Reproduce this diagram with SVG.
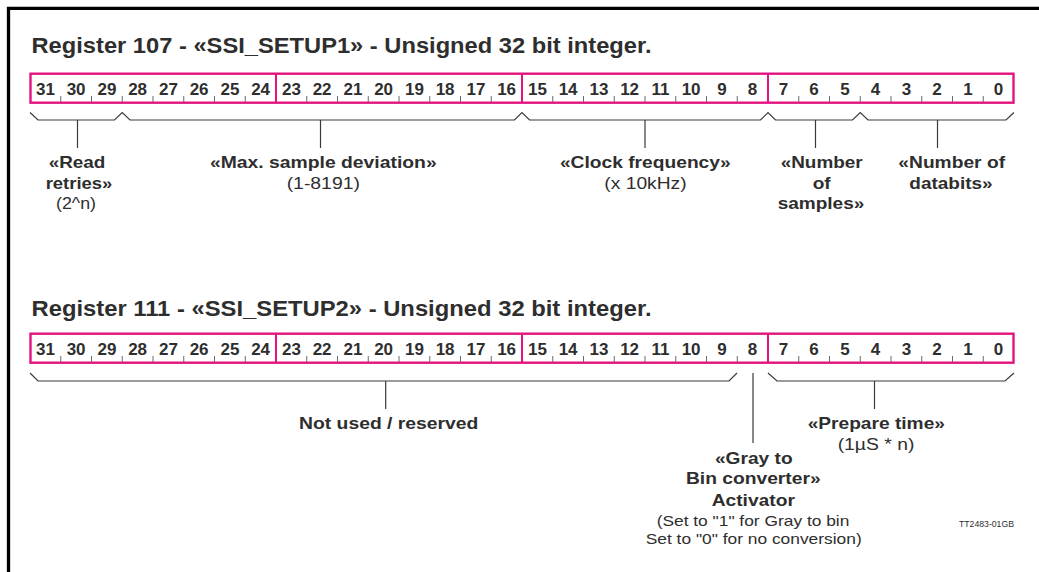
<svg xmlns="http://www.w3.org/2000/svg" width="1039" height="572" viewBox="0 0 1039 572">
<style>
.t{font-family:"Liberation Sans",Arial,sans-serif;fill:#2e2e2e}
.title{font-size:22px;font-weight:bold}
.d{font-size:17px;font-weight:bold;text-anchor:middle}
.b{font-size:16.5px;font-weight:bold;text-anchor:middle}
.r{font-size:16px;text-anchor:middle}
.s{font-size:15px;text-anchor:middle}
.box{fill:none;stroke:#e3147f;stroke-width:2.4}
.div{stroke:#e3147f;stroke-width:2}
.tick{stroke:#6a6a6a;stroke-width:1;fill:none}
.br{fill:none;stroke:#3a3a3a;stroke-width:1.2}
</style>
<rect width="1039" height="572" fill="#fff"/>
<g id="frame"><path d="M8.5,572 V8.4 H1039" fill="none" stroke="#000" stroke-width="3.3"/></g>

<g id="title1"><text class="t title" x="31.5" y="53.3" textLength="620" lengthAdjust="spacingAndGlyphs">Register 107 - «SSI_SETUP1» - Unsigned 32 bit integer.</text></g>

<g id="reg107">
<rect class="box" x="30.5" y="73.7" width="983" height="29"/>
<path class="div" d="M276,73 V103 M522,73 V103 M768,73 V103"/>
<path class="tick" d="M60.75,96v6M91.5,96v6M122.25,96v6M153,96v6M183.75,96v6M214.5,96v6M245.25,96v6M306.75,96v6M337.5,96v6M368.25,96v6M399,96v6M429.75,96v6M460.5,96v6M491.25,96v6M552.75,96v6M583.5,96v6M614.25,96v6M645,96v6M675.75,96v6M706.5,96v6M737.25,96v6M798.75,96v6M829.5,96v6M860.25,96v6M891,96v6M921.75,96v6M952.5,96v6M983.25,96v6"/>
<g class="t d">
<text x="45.4" y="95">31</text><text x="76.1" y="95">30</text><text x="106.9" y="95">29</text><text x="137.6" y="95">28</text>
<text x="168.4" y="95">27</text><text x="199.1" y="95">26</text><text x="229.9" y="95">25</text><text x="260.6" y="95">24</text>
<text x="291.4" y="95">23</text><text x="322.1" y="95">22</text><text x="352.9" y="95">21</text><text x="383.6" y="95">20</text>
<text x="414.4" y="95">19</text><text x="445.1" y="95">18</text><text x="475.9" y="95">17</text><text x="506.6" y="95">16</text>
<text x="537.4" y="95">15</text><text x="568.1" y="95">14</text><text x="598.9" y="95">13</text><text x="629.6" y="95">12</text>
<text x="660.4" y="95">11</text><text x="691.1" y="95">10</text><text x="721.9" y="95">9</text><text x="752.6" y="95">8</text>
<text x="783.4" y="95">7</text><text x="814.1" y="95">6</text><text x="844.9" y="95">5</text><text x="875.6" y="95">4</text>
<text x="906.4" y="95">3</text><text x="937.1" y="95">2</text><text x="967.9" y="95">1</text><text x="998.6" y="95">0</text>
</g>
</g>

<g id="title2"><text class="t title" x="31.5" y="316" textLength="620" lengthAdjust="spacingAndGlyphs">Register 111 - «SSI_SETUP2» - Unsigned 32 bit integer.</text></g>

<g id="reg111">
<rect class="box" x="30.5" y="333.7" width="983" height="29"/>
<path class="div" d="M276,333 V363 M522,333 V363 M768,333 V363"/>
<path class="tick" d="M60.75,356v6M91.5,356v6M122.25,356v6M153,356v6M183.75,356v6M214.5,356v6M245.25,356v6M306.75,356v6M337.5,356v6M368.25,356v6M399,356v6M429.75,356v6M460.5,356v6M491.25,356v6M552.75,356v6M583.5,356v6M614.25,356v6M645,356v6M675.75,356v6M706.5,356v6M737.25,356v6M798.75,356v6M829.5,356v6M860.25,356v6M891,356v6M921.75,356v6M952.5,356v6M983.25,356v6"/>
<g class="t d">
<text x="45.4" y="355">31</text><text x="76.1" y="355">30</text><text x="106.9" y="355">29</text><text x="137.6" y="355">28</text>
<text x="168.4" y="355">27</text><text x="199.1" y="355">26</text><text x="229.9" y="355">25</text><text x="260.6" y="355">24</text>
<text x="291.4" y="355">23</text><text x="322.1" y="355">22</text><text x="352.9" y="355">21</text><text x="383.6" y="355">20</text>
<text x="414.4" y="355">19</text><text x="445.1" y="355">18</text><text x="475.9" y="355">17</text><text x="506.6" y="355">16</text>
<text x="537.4" y="355">15</text><text x="568.1" y="355">14</text><text x="598.9" y="355">13</text><text x="629.6" y="355">12</text>
<text x="660.4" y="355">11</text><text x="691.1" y="355">10</text><text x="721.9" y="355">9</text><text x="752.6" y="355">8</text>
<text x="783.4" y="355">7</text><text x="814.1" y="355">6</text><text x="844.9" y="355">5</text><text x="875.6" y="355">4</text>
<text x="906.4" y="355">3</text><text x="937.1" y="355">2</text><text x="967.9" y="355">1</text><text x="998.6" y="355">0</text>
</g>
</g>

<g id="connectors">
<path class="br" d="M30,112.5 L38,120 H114.5 L122.25,112.5 L130,120 H514.5 L522,112.5 L529.5,120 H760.5 L768,112.5 L775.5,120 H852.5 L860.25,112.5 L868,120 H1006 L1014,112.5"/>
<path class="br" d="M77.5,120 V148 M320.5,120 V148 M645,120 V148 M815.5,120 V148 M937.5,120 V148"/>
<path class="br" d="M30,373 L38,381 H729 L737,373"/>
<path class="br" d="M768,373 L777,381 H1005 L1014,373"/>
<path class="br" d="M385.7,381 V409 M874.5,381 V409 M753,373 V443"/>
</g>

<g id="lbl-read-retries" class="t">
<text class="b" x="77" y="168.3" textLength="56.7" lengthAdjust="spacingAndGlyphs">«Read</text>
<text class="b" x="79" y="189.3" textLength="66.7" lengthAdjust="spacingAndGlyphs">retries»</text>
<text class="r" x="76" y="208.5" textLength="40" lengthAdjust="spacingAndGlyphs">(2^n)</text>
</g>
<g id="lbl-max-sample-deviation" class="t">
<text class="b" x="323.3" y="168.3" textLength="226.7" lengthAdjust="spacingAndGlyphs">«Max. sample deviation»</text>
<text class="r" x="323.3" y="189" textLength="73.3" lengthAdjust="spacingAndGlyphs">(1-8191)</text>
</g>
<g id="lbl-clock-frequency" class="t">
<text class="b" x="645.3" y="168.3" textLength="170.7" lengthAdjust="spacingAndGlyphs">«Clock frequency»</text>
<text class="r" x="645.5" y="189" textLength="82.3" lengthAdjust="spacingAndGlyphs">(x 10kHz)</text>
</g>
<g id="lbl-number-of-samples" class="t">
<text class="b" x="821.7" y="168.3" textLength="82" lengthAdjust="spacingAndGlyphs">«Number</text>
<text class="b" x="821.7" y="189.3" textLength="18" lengthAdjust="spacingAndGlyphs">of</text>
<text class="b" x="821" y="209" textLength="86.7" lengthAdjust="spacingAndGlyphs">samples»</text>
</g>
<g id="lbl-number-of-databits" class="t">
<text class="b" x="951.7" y="168.3" textLength="106.7" lengthAdjust="spacingAndGlyphs">«Number of</text>
<text class="b" x="951" y="189.3" textLength="83.3" lengthAdjust="spacingAndGlyphs">databits»</text>
</g>

<g id="lbl-not-used" class="t">
<text class="b" x="388.7" y="429" textLength="179.3" lengthAdjust="spacingAndGlyphs">Not used / reserved</text>
</g>
<g id="lbl-prepare-time" class="t">
<text class="b" x="876.3" y="429" textLength="137.3" lengthAdjust="spacingAndGlyphs">«Prepare time»</text>
<text class="r" x="876" y="450" textLength="76.7" lengthAdjust="spacingAndGlyphs">(1µS * n)</text>
</g>
<g id="lbl-gray-to-bin" class="t">
<text class="b" x="753.8" y="464.3" textLength="77.7" lengthAdjust="spacingAndGlyphs">«Gray to</text>
<text class="b" x="753.3" y="484.3" textLength="134.7" lengthAdjust="spacingAndGlyphs">Bin converter»</text>
<text class="b" x="753.3" y="506" textLength="83.3" lengthAdjust="spacingAndGlyphs">Activator</text>
<text class="s" x="753" y="526" textLength="192.7" lengthAdjust="spacingAndGlyphs">(Set to "1" for Gray to bin</text>
<text class="s" x="753.7" y="544.3" textLength="216" lengthAdjust="spacingAndGlyphs">Set to "0" for no conversion)</text>
</g>
<g id="ref-code" class="t">
<text x="959" y="526.7" font-size="8.5" textLength="55" lengthAdjust="spacingAndGlyphs">TT2483-01GB</text>
</g>
</svg>
